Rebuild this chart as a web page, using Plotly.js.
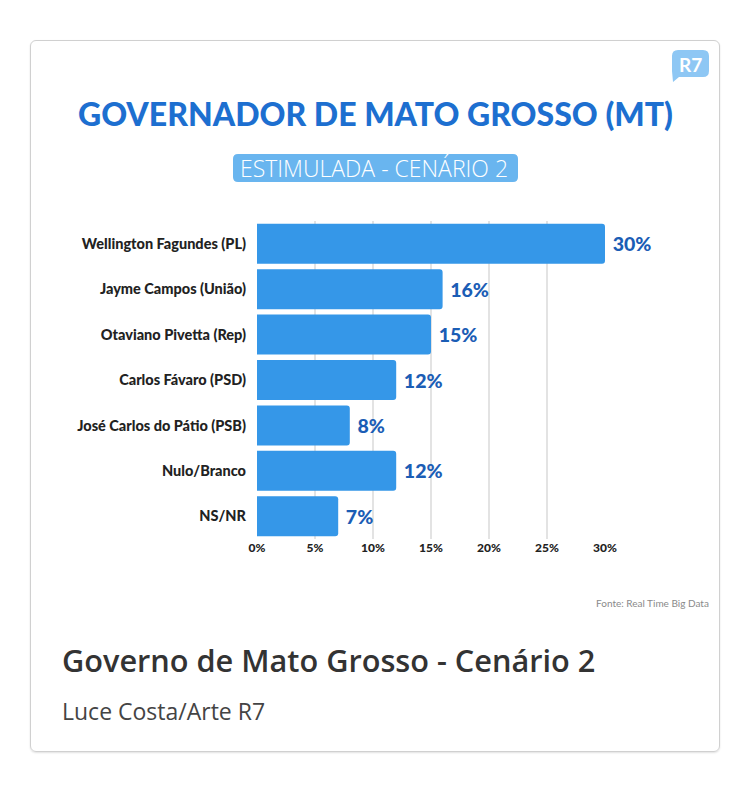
<!DOCTYPE html>
<html>
<head>
<meta charset="utf-8">
<script src="https://cdn.plot.ly/plotly-3.0.1.min.js"></script>
<style>
  html, body { margin: 0; padding: 0; background: #ffffff; }
  #wrap { position: relative; width: 750px; height: 787px; }
  #card { position: absolute; left: 30px; top: 40px; width: 688px; height: 710px;
          border: 1.5px solid #d0d0d0; border-radius: 6px; box-shadow: 0 1px 2px rgba(0,0,0,0.12); }
  #chart { position: absolute; left: 0; top: 0; width: 750px; height: 787px; }
</style>
</head>
<body>
<div id="wrap">
  <div id="card"></div>
  <div id="chart"></div>
</div>
<script>
// ---- data ----
const categories = [
  "Wellington Fagundes (PL)",
  "Jayme Campos (União)",
  "Otaviano Pivetta (Rep)",
  "Carlos Fávaro (PSD)",
  "José Carlos do Pátio (PSB)",
  "Nulo/Branco",
  "NS/NR"
];
const values = [30, 16, 15, 12, 8, 12, 7];
const tickValues = [0, 5, 10, 15, 20, 25, 30];
const tickLabels = ["0%", "5%", "10%", "15%", "20%", "25%", "30%"];

const titleText = "GOVERNADOR DE MATO GROSSO (MT)";
const subtitleText = "ESTIMULADA - CENÁRIO 2";
const sourceText = "Fonte: Real Time Big Data";
const captionText = "Governo de Mato Grosso - Cenário 2";
const creditText = "Luce Costa/Arte R7";

// ---- layout geometry (pixels) ----
const W = 750, H = 787;
const L = 257, R = 605, T = 221, B = 539;
const px = x => (x - L) / (R - L);
const py = y => (B - y) / (B - T);

function roundRect(x0, y0, x1, y1, r) {
  const X = v => px(v), Y = v => py(v);
  return `M ${X(x0 + r)} ${Y(y0)} L ${X(x1 - r)} ${Y(y0)} Q ${X(x1)} ${Y(y0)} ${X(x1)} ${Y(y0 + r)} ` +
         `L ${X(x1)} ${Y(y1 - r)} Q ${X(x1)} ${Y(y1)} ${X(x1 - r)} ${Y(y1)} ` +
         `L ${X(x0 + r)} ${Y(y1)} Q ${X(x0)} ${Y(y1)} ${X(x0)} ${Y(y1 - r)} ` +
         `L ${X(x0)} ${Y(y0 + r)} Q ${X(x0)} ${Y(y0)} ${X(x0 + r)} ${Y(y0)} Z`;
}
function bubble(x0, y0, x1, y1, r) {
  const X = v => px(v), Y = v => py(v);
  return `M ${X(x0 + r)} ${Y(y0)} L ${X(x1 - r)} ${Y(y0)} Q ${X(x1)} ${Y(y0)} ${X(x1)} ${Y(y0 + r)} ` +
         `L ${X(x1)} ${Y(y1 - r)} Q ${X(x1)} ${Y(y1)} ${X(x1 - r)} ${Y(y1)} ` +
         `L ${X(x0 + 7)} ${Y(y1)} L ${X(x0 + 1)} ${Y(y1 + 5)} L ${X(x0)} ${Y(y1 - r)} ` +
         `L ${X(x0)} ${Y(y0 + r)} Q ${X(x0)} ${Y(y0)} ${X(x0 + r)} ${Y(y0)} Z`;
}

const trace = {
  type: "bar",
  orientation: "h",
  y: categories,
  x: values,
  width: 0.88,
  marker: { color: "#3597e8", cornerradius: 3 },
  text: values.map(v => " " + v + "%"),
  textposition: "outside",
  cliponaxis: false,
  textfont: { family: "Lato, sans-serif", size: 19.5, color: "#1b5db5", weight: 900 },
  hoverinfo: "none"
};

const shapes = [
  { type: "path", xref: "paper", yref: "paper", path: roundRect(233, 154, 518, 182, 5),
    fillcolor: "#69b5ef", line: { width: 0 }, layer: "below" },
  { type: "path", xref: "paper", yref: "paper", path: bubble(672, 50, 709, 77, 6),
    fillcolor: "#8ec7f4", line: { width: 0 }, layer: "below" }
];

const ann = [
  { text: titleText, x: px(375), y: py(114), xref: "paper", yref: "paper", showarrow: false,
    xanchor: "center", yanchor: "middle",
    font: { family: "Lato, sans-serif", size: 32, color: "#1d6fd0", weight: 900 } },
  { text: subtitleText, x: px(374), y: py(168), xref: "paper", yref: "paper", showarrow: false,
    xanchor: "center", yanchor: "middle",
    font: { family: "Open Sans, sans-serif", size: 23, color: "#ffffff", weight: 300 } },
  { text: "<b>R7</b>", x: px(690.5), y: py(64), xref: "paper", yref: "paper", showarrow: false,
    xanchor: "center", yanchor: "middle",
    font: { family: "Lato, sans-serif", size: 19, color: "#ffffff", weight: 900 } },
  { text: sourceText, x: px(711), y: py(603), xref: "paper", yref: "paper", showarrow: false,
    xanchor: "right", yanchor: "middle",
    font: { family: "Lato, sans-serif", size: 10, color: "#8a8a8a" } },
  { text: captionText, x: px(60), y: py(660), xref: "paper", yref: "paper", showarrow: false,
    xanchor: "left", yanchor: "middle",
    font: { family: "Open Sans, sans-serif", size: 30.7, color: "#333333", weight: 600 } },
  { text: creditText, x: px(60), y: py(711), xref: "paper", yref: "paper", showarrow: false,
    xanchor: "left", yanchor: "middle",
    font: { family: "Open Sans, sans-serif", size: 23, color: "#444444" } }
];

const layout = {
  width: W, height: H,
  margin: { l: L, r: W - R, t: T, b: H - B, pad: 0 },
  paper_bgcolor: "rgba(0,0,0,0)",
  plot_bgcolor: "rgba(0,0,0,0)",
  showlegend: false,
  xaxis: {
    range: [0, 30],
    tickvals: tickValues,
    ticktext: tickLabels,
    showgrid: true,
    gridcolor: "#e3e3e3",
    gridwidth: 1.5,
    zeroline: false,
    showline: false,
    ticks: "",
    ticklen: 0,
    tickfont: { family: "Lato, sans-serif", size: 12, color: "#222222", weight: 900 },
    fixedrange: true
  },
  yaxis: {
    autorange: "reversed",
    showgrid: false,
    zeroline: false,
    showline: false,
    ticks: "",
    ticklabelstandoff: 10,
    tickfont: { family: "Lato, sans-serif", size: 14.5, color: "#222222", weight: 900 },
    fixedrange: true
  },
  shapes: shapes,
  annotations: ann
};

Plotly.newPlot("chart", [trace], layout, { displayModeBar: false, staticPlot: true });
</script>
</body>
</html>
